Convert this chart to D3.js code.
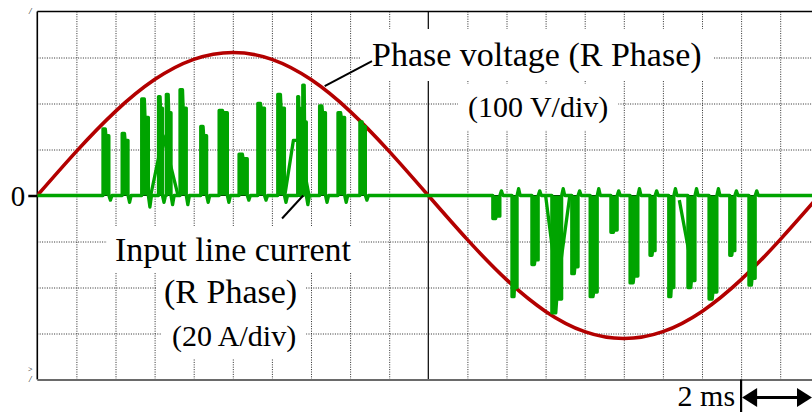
<!DOCTYPE html>
<html>
<head>
<meta charset="utf-8">
<script src="https://cdn.jsdelivr.net/npm/d3@7"></script>
<style>
  html, body { margin: 0; padding: 0; background: #fff; overflow: hidden; }
  svg { display: block; }
  text { font-family: "Liberation Serif", "Times New Roman", serif; fill: #000; }
</style>
</head>
<body>
<svg id="chart" width="812" height="412"></svg>
<script>
// ---- grid divisions: 1 ms/div across, 100 V/div and 20 A/div up ----
const timeGrid = [0, 1, 2, 3, 4, 5, 6, 7, 8, 9, 10, 11, 12, 13, 14, 15, 16, 17, 18, 19, 20];
const voltGrid = [-400, -300, -200, -100, 0, 100, 200, 300, 400];
const zeroTick = [0];

// ---- phase voltage (R phase), V, sampled every ms ----
const voltT = [0, 1, 2, 3, 4, 5, 6, 7, 8, 9, 10, 11, 12, 13, 14, 15, 16, 17, 18, 19, 20];
const voltV = [0, 96, 183, 252, 296, 311, 296, 252, 183, 96, 0, -96, -183, -252, -296, -311, -296, -252, -183, -96, 0];

// ---- input line current (R phase) pulses: start (ms), width (ms), leading / trailing level (A), ring (A) ----
const spikeStart = [1.68, 2.17, 2.67, 3.10, 3.30, 3.65, 4.18, 4.65, 5.16, 5.64, 6.15, 6.66, 6.79, 7.22, 7.69, 8.25,
                    11.65, 12.14, 12.65, 13.16, 13.67, 14.14, 14.67, 15.16, 15.67, 16.15, 16.64, 17.18, 17.71, 18.20];
const spikeWidth = [0.15, 0.15, 0.17, 0.10, 0.12, 0.16, 0.15, 0.21, 0.21, 0.17, 0.17, 0.06, 0.09, 0.15, 0.17, 0.14,
                    0.18, 0.13, 0.16, 0.25, 0.16, 0.18, 0.16, 0.20, 0.13, 0.13, 0.18, 0.20, 0.13, 0.16];
const spikePeak  = [29, 27, 42, 43, 44, 46, 30, 37, 18, 40, 44, 43, 48, 39, 36, 32,
                    -10, -44, -30, -51, -34, -44, -16, -38, -26, -44, -40, -45, -26, -39];
const spikeTail  = [26, 24, 34, 38, 36, 38, 26, 36, 16, 38, 38, 38, 32, 36, 34, 30,
                    -9, -40, -28, -45, -31, -42, -15, -35, -24, -40, -37, -42, -24, -36];
const spikeRing  = [-2, -3, -5, -3, -4, -4, -3, -3, -2, -2, -3, 0, -4, -3, -3, -2,
                    2, 3, 2, 3, 2, 3, 2, 3, 2, 3, 3, 3, 2, 2];

// slow current ramps between pulses (ms, A)
const rampT = [[2.90, 3.22, 3.60], [6.33, 6.55, 6.68, 6.95], [13.00, 13.30, 13.62], [16.42, 16.66, 16.80]];
const rampI = [[0, 26, 0], [0, 24, 24, 0], [0, -40, 0], [-2, -24, -2]];

// ---- layout ----
const W = 812, H = 412;
const plotLeft = 37.3, plotTop = 11.5, plotBottom = 379.5, divW = 39.1;

const x = d3.scaleLinear().domain([0, 20]).range([plotLeft, plotLeft + 20 * divW]);
const yV = d3.scaleLinear().domain([-400, 400]).range([plotBottom, plotTop]);
const yI = d3.scaleLinear().domain([-80, 80]).range([plotBottom, plotTop]);

const svg = d3.select("#chart");
svg.append("defs").append("clipPath").attr("id", "plotClip")
  .append("rect").attr("x", plotLeft).attr("y", 0).attr("width", W - plotLeft).attr("height", plotBottom + 2);

const gridLayer = svg.append("g");
const boxLayer = svg.append("g");
const traceLayer = svg.append("g").attr("clip-path", "url(#plotClip)");
const noteLayer = svg.append("g");

// dotted division grid
const gridColor = "#2a2a2a";
gridLayer.append("g")
  .attr("transform", `translate(0,${plotTop})`)
  .call(d3.axisBottom(x).tickValues(timeGrid.filter(t => t !== 0 && t !== 10))
        .tickSize(plotBottom - plotTop).tickFormat(""))
  .call(g => g.select(".domain").remove())
  .selectAll("line").attr("stroke", gridColor).attr("stroke-width", 1).attr("stroke-dasharray", "1,1.4");

gridLayer.append("g")
  .attr("transform", `translate(${plotLeft},0)`)
  .call(d3.axisRight(yV).tickValues(voltGrid.filter(v => v !== 0 && Math.abs(v) !== 400))
        .tickSize(W - plotLeft).tickFormat(""))
  .call(g => g.select(".domain").remove())
  .selectAll("line").attr("stroke", gridColor).attr("stroke-width", 1).attr("stroke-dasharray", "1,1.4");

// centre cross-hair
gridLayer.append("line")
  .attr("x1", x(10)).attr("x2", x(10)).attr("y1", plotTop).attr("y2", plotBottom)
  .attr("stroke", "#000").attr("stroke-width", 1.2);
gridLayer.append("line")
  .attr("x1", plotLeft).attr("x2", W).attr("y1", yV(0)).attr("y2", yV(0))
  .attr("stroke", "#000").attr("stroke-width", 1.2);

// frame
gridLayer.append("line")
  .attr("x1", plotLeft).attr("x2", W).attr("y1", plotTop).attr("y2", plotTop)
  .attr("stroke", "#000").attr("stroke-width", 1.6);
gridLayer.append("line")
  .attr("x1", plotLeft).attr("x2", plotLeft).attr("y1", plotTop).attr("y2", plotBottom)
  .attr("stroke", "#000").attr("stroke-width", 1.6);
gridLayer.append("line")
  .attr("x1", plotLeft).attr("x2", W).attr("y1", plotBottom + 0.5).attr("y2", plotBottom + 0.5)
  .attr("stroke", "#6a6a6a").attr("stroke-width", 2);

// zero marker on the left
const zeroAxis = gridLayer.append("g")
  .attr("transform", `translate(${plotLeft},0)`)
  .call(d3.axisLeft(yV).tickValues(zeroTick).tickSize(9).tickPadding(3).tickFormat(d3.format("d")));
zeroAxis.select(".domain").remove();
zeroAxis.selectAll("line").attr("stroke", "#000").attr("stroke-width", 2.5);
zeroAxis.selectAll("text")
  .attr("font-family", "'Liberation Serif','Times New Roman',serif")
  .attr("font-size", 29).attr("fill", "#000").attr("dy", "0.34em");

// channel reference markers
gridLayer.append("text").attr("x", 29).attr("y", 14).attr("font-size", 9).attr("font-style", "italic").text("/");
gridLayer.append("text").attr("x", 28).attr("y", 372).attr("font-size", 8).text(">");
gridLayer.append("text").attr("x", 29).attr("y", 382).attr("font-size", 9).attr("font-style", "italic").text("/");

// ---- phase voltage trace ----
const voltPts = voltT.map((t, k) => ({ t, v: voltV[k] }));
traceLayer.append("path")
  .datum(voltPts)
  .attr("fill", "none")
  .attr("stroke", "#b30000")
  .attr("stroke-width", 3.6)
  .attr("d", d3.line().x(d => x(d.t)).y(d => yV(d.v)).curve(d3.curveNatural));

// ---- line current trace ----
const green = "#00a400";
const traceWidth = 3.3;
const pulses = spikeStart.map((t0, k) => ({
  t0, w: spikeWidth[k], pk: spikePeak[k], tail: spikeTail[k], ring: spikeRing[k]
}));

// a pulse: sharp rise to the leading level, a short shoulder, then the trailing level and the fall
function pulseOutline(p) {
  return [
    { t: p.t0, i: p.pk },
    { t: p.t0 + p.w * 0.4, i: p.pk },
    { t: p.t0 + p.w * 0.5, i: p.tail },
    { t: p.t0 + p.w, i: p.tail }
  ];
}

// solid pulse bodies
const pulseArea = d3.area().x(d => x(d.t)).y0(yI(0)).y1(d => yI(d.i));
traceLayer.selectAll("path.pulse")
  .data(pulses)
  .join("path")
  .attr("class", "pulse")
  .attr("fill", green)
  .attr("d", p => pulseArea(pulseOutline(p)));

// continuous trace outline
const tracePts = [{ t: 0, i: 0 }];
pulses.forEach(p => {
  tracePts.push({ t: p.t0, i: 0 }, ...pulseOutline(p),
                { t: p.t0 + p.w, i: 0 }, { t: p.t0 + p.w + 0.04, i: p.ring }, { t: p.t0 + p.w + 0.08, i: 0 });
});
tracePts.push({ t: 20, i: 0 });
const traceLine = d3.line().x(d => x(d.t)).y(d => yI(d.i));
traceLayer.append("path")
  .datum(tracePts)
  .attr("fill", "none")
  .attr("stroke", green)
  .attr("stroke-width", traceWidth)
  .attr("stroke-linejoin", "round")
  .attr("d", traceLine);

traceLayer.selectAll("path.ramp")
  .data(rampT.map((ts, k) => ts.map((t, j) => ({ t, i: rampI[k][j] }))))
  .join("path")
  .attr("class", "ramp")
  .attr("fill", "none")
  .attr("stroke", green)
  .attr("stroke-width", traceWidth)
  .attr("stroke-linejoin", "round")
  .attr("d", traceLine);

// ---- annotations ----
function note(txt, px, py, size, padX, padY) {
  const t = noteLayer.append("text").attr("x", px).attr("y", py).attr("font-size", size).text(txt);
  const b = t.node().getBBox();
  boxLayer.append("rect")
    .attr("x", b.x - padX).attr("y", b.y - padY).attr("width", b.width + 2 * padX).attr("height", b.height + 2 * padY)
    .attr("fill", "#fff");
  return b;
}

const vNote = note("Phase voltage (R Phase)", 372, 66, 34, 12, 7);
note("(100 V/div)", 468, 117, 30, 10, 6);
note("Input line current", 115, 261, 34, 8, 5);
note("(R Phase)", 164, 303, 34, 8, 5);
note("(20 A/div)", 172, 346, 30, 10, 6);

// leader lines
noteLayer.append("line")
  .attr("x1", x(7.35)).attr("y1", yV(238))
  .attr("x2", vNote.x).attr("y2", vNote.y + vNote.height * 0.66)
  .attr("stroke", "#000").attr("stroke-width", 2);
noteLayer.append("line")
  .attr("x1", x(6.26)).attr("y1", yI(-10))
  .attr("x2", x(6.80)).attr("y2", yI(0))
  .attr("stroke", "#000").attr("stroke-width", 2);

// ---- 2 ms time scale bar ----
const barY = 397.5;
const barX0 = x(18), barX1 = Math.min(x(20), W);
noteLayer.append("line")
  .attr("x1", barX0).attr("x2", barX0).attr("y1", plotBottom).attr("y2", H)
  .attr("stroke", "#000").attr("stroke-width", 2.2);
noteLayer.append("line")
  .attr("x1", barX0 + 8).attr("x2", barX1 - 8).attr("y1", barY).attr("y2", barY)
  .attr("stroke", "#000").attr("stroke-width", 3.2);
const head = 15, half = 9.5;
noteLayer.append("path")
  .attr("d", `M${barX0 + 1},${barY} L${barX0 + 1 + head},${barY - half} L${barX0 + 1 + head},${barY + half} Z`)
  .attr("fill", "#000");
noteLayer.append("path")
  .attr("d", `M${barX1},${barY} L${barX1 - head},${barY - half} L${barX1 - head},${barY + half} Z`)
  .attr("fill", "#000");
noteLayer.append("text")
  .attr("x", barX0 - 6).attr("y", 406).attr("font-size", 30).attr("text-anchor", "end").text("2 ms");
</script>
</body>
</html>
